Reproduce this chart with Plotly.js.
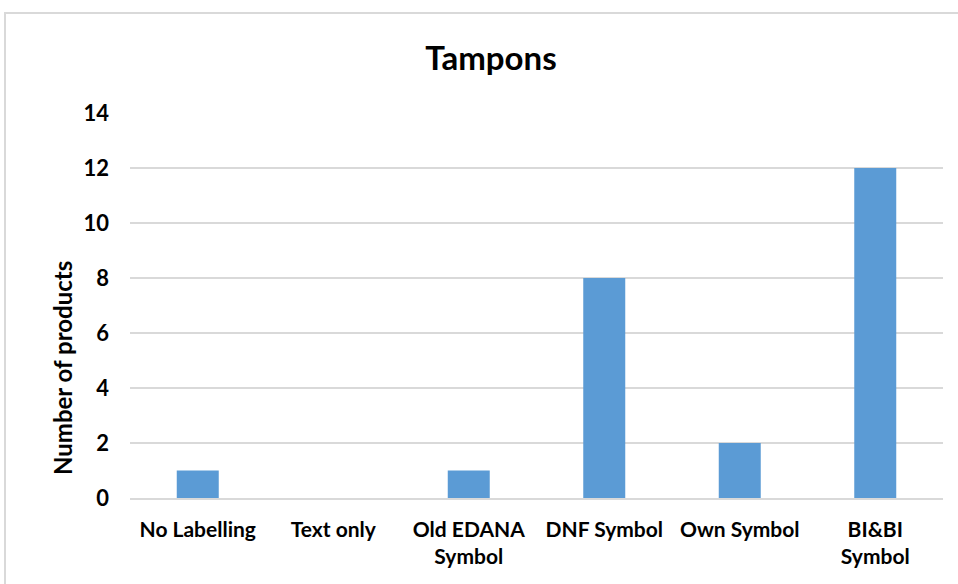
<!DOCTYPE html>
<html>
<head>
<meta charset="utf-8">
<script src="https://cdn.plot.ly/plotly-3.0.1.min.js"></script>
<style>
  body { margin: 0; background: #fff; }
  #grafico { width: 958px; height: 584px; }
</style>
</head>
<body>
<div id="grafico"></div>
<script>
// datos
const categorias = ["No Labelling", "Text only", "Old EDANA<br>Symbol", "DNF Symbol", "Own Symbol", "BI&BI<br>Symbol"];
const productos = [1, 0, 1, 8, 2, 12];
const ticksY = [0, 2, 4, 6, 8, 10, 12, 14];

const fuente = "Lato, 'Open Sans', sans-serif";

const trace = {
  x: categorias,
  y: productos,
  type: 'bar',
  marker: { color: '#5B9BD5' },
  width: 0.31,
  hoverinfo: 'x+y'
};

const layout = {
  width: 958,
  height: 584,
  paper_bgcolor: '#fff',
  plot_bgcolor: '#fff',
  margin: { l: 130, r: 15, t: 113, b: 86 },
  showlegend: false,
  font: { family: fuente, color: '#000' },
  title: {
    text: '<b>Tampons</b>',
    font: { family: fuente, size: 33, color: '#000' },
    x: 491 / 958, xanchor: 'center',
    y: 1 - 58 / 584, yanchor: 'middle'
  },
  xaxis: {
    type: 'category',
    tickfont: { family: fuente, size: 21, weight: 'bold', color: '#000' },
    showgrid: false,
    showline: true,
    linecolor: '#d9d9d9',
    linewidth: 1.5,
    ticks: '',
    ticklabelstandoff: 12,
    zeroline: false
  },
  yaxis: {
    range: [0, 14],
    tickvals: ticksY,
    ticktext: ticksY.map(String),
    tickfont: { family: fuente, size: 22, weight: 'bold', color: '#000' },
    gridcolor: '#d9d9d9',
    gridwidth: 1.5,
    zeroline: false,
    ticks: '',
    ticklabelstandoff: 20
  },
  // titulo del eje Y como anotacion (va mas abajo que el centro)
  annotations: [{
    text: '<b>Number of products</b>',
    xref: 'paper', yref: 'paper',
    x: (62 - 130) / 813, y: (498 - 368) / 385,
    xanchor: 'center', yanchor: 'middle',
    textangle: -90,
    showarrow: false,
    font: { family: fuente, size: 24, color: '#000' }
  }],
  shapes: [{
    type: 'rect',
    xref: 'paper', yref: 'paper',
    x0: (5 - 130) / 813, x1: (962 - 130) / 813,
    y0: (498 - 590) / 385, y1: (498 - 13) / 385,
    line: { color: '#d9d9d9', width: 2 },
    fillcolor: 'rgba(0,0,0,0)',
    layer: 'below'
  }]
};

Plotly.newPlot('grafico', [trace], layout, { displayModeBar: false, staticPlot: true });
</script>
</body>
</html>
